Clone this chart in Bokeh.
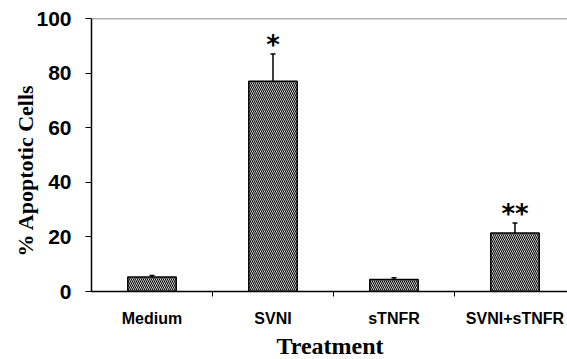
from bokeh.plotting import figure
from bokeh.models import (ColumnDataSource, Range1d, FixedTicker, Span, Title,
                          Whisker, TeeHead)
from bokeh.core.properties import value
from bokeh.embed import file_html
from bokeh.resources import INLINE

# ---- data ----
categories = ["Medium", "SVNI", "sTNFR", "SVNI+sTNFR"]
apoptotic = [5.3, 77.0, 4.4, 21.4]
errors = [0.6, 10.0, 0.6, 3.7]
significance = ["", "*", "", "**"]
y_ticks = [0, 20, 40, 60, 80, 100]

xs = [i + 0.5 for i in range(len(categories))]
upper = [v + e for v, e in zip(apoptotic, errors)]

src = ColumnDataSource(dict(x=xs, top=apoptotic, upper=upper, sig=significance))

W, H = 567, 359
p = figure(width=W, height=H, output_backend="svg", toolbar_location=None,
           x_range=Range1d(0, 3.934), y_range=Range1d(0, 100),
           min_border_left=91, min_border_right=0, min_border_top=18,
           min_border_bottom=67)
p.outline_line_color = None
p.grid.visible = False
p.background_fill_color = "white"
p.border_fill_color = "white"

# bars
p.vbar(x="x", top="top", bottom=0, width=0.4, source=src,
       fill_color="white", line_color="black", line_width=1.5,
       hatch_pattern="\\", hatch_color="black", hatch_scale=4, hatch_weight=1.1)

# error bars (upper only)
w = Whisker(base="x", lower="top", upper="upper", source=src,
            line_color="black", line_width=1.5,
            upper_head=TeeHead(size=5, line_color="black", line_width=1.5),
            lower_head=None)
p.add_layout(w)

# significance marks
p.text(x="x", y="upper", text="sig", source=src, text_align="center",
       text_baseline="alphabetic", y_offset=-9,
       text_font=value("DejaVu Sans"), text_font_style="bold",
       text_font_size="26px", text_color="black")

# top line
p.add_layout(Span(location=100, dimension="width", line_color="#666666",
                  line_width=1.5))

# y axis
ya = p.yaxis[0]
ya.ticker = FixedTicker(ticks=y_ticks)
ya.axis_line_color = "black"
ya.axis_line_width = 1.5
ya.major_tick_out = 6
ya.major_tick_in = 0
ya.minor_tick_out = 0
ya.minor_tick_in = 0
ya.major_tick_line_width = 1.2
ya.major_label_standoff = 14
ya.major_label_text_font = "Liberation Sans"
ya.major_label_text_font_style = "bold"
ya.major_label_text_font_size = "21px"
ya.major_label_text_color = "black"

# x axis
xa = p.xaxis[0]
xa.ticker = FixedTicker(ticks=xs, minor_ticks=[1, 2, 3])
xa.major_label_overrides = {x: c for x, c in zip(xs, categories)}
xa.axis_line_color = "black"
xa.axis_line_width = 1.5
xa.major_tick_out = 0
xa.major_tick_in = 0
xa.minor_tick_out = 5
xa.minor_tick_in = 0
xa.minor_tick_line_color = "black"
xa.major_label_standoff = 13
xa.major_label_text_font = "Liberation Sans"
xa.major_label_text_font_style = "bold"
xa.major_label_text_font_size = "16px"
xa.major_label_text_color = "black"

# axis titles as side panels
p.add_layout(Title(text="Treatment", align="left", offset=185, standoff=2,
                   text_font="Liberation Serif", text_font_style="bold",
                   text_font_size="24px", text_color="black"), "below")
p.add_layout(Title(text="% Apoptotic Cells", align="left", offset=35, standoff=-8,
                   text_font="Liberation Serif", text_font_style="bold",
                   text_font_size="22px", text_color="black"), "left")

open("out.html", "w").write(file_html(p, INLINE))
